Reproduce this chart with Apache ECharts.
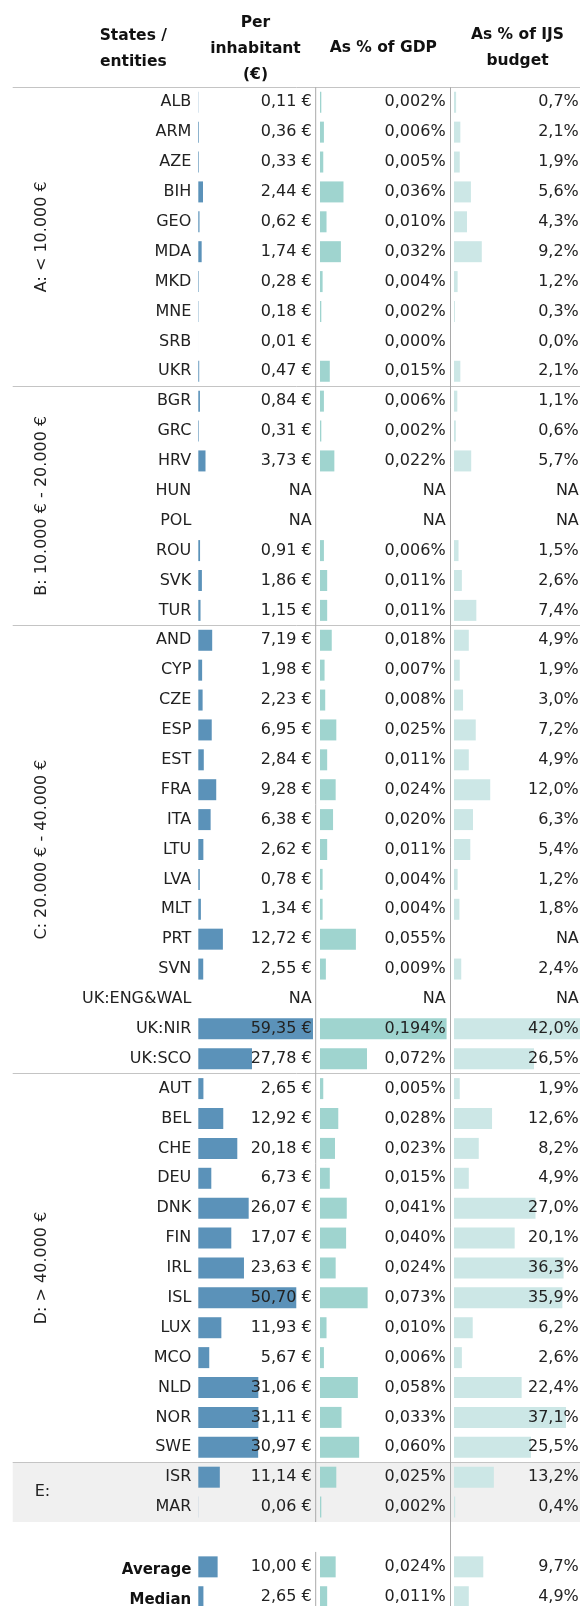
<!DOCTYPE html>
<html>
<head>
<meta charset="utf-8">
<script src="https://cdn.jsdelivr.net/npm/echarts@6/dist/echarts.min.js"></script>
<style>
  html, body { margin: 0; padding: 0; background: #fff; }
  #chart { width: 580px; height: 1606px; }
</style>
</head>
<body>
<div id="chart"></div>
<script>
// 分组（按人均 GDP）与国家代码
const groupNames = ['A: < 10.000 €', 'B: 10.000 € - 20.000 €', 'C: 20.000 € - 40.000 €', 'D: > 40.000 €', 'E:'];
const groupA = ['ALB', 'ARM', 'AZE', 'BIH', 'GEO', 'MDA', 'MKD', 'MNE', 'SRB', 'UKR'];
const groupB = ['BGR', 'GRC', 'HRV', 'HUN', 'POL', 'ROU', 'SVK', 'TUR'];
const groupC = ['AND', 'CYP', 'CZE', 'ESP', 'EST', 'FRA', 'ITA', 'LTU', 'LVA', 'MLT', 'PRT', 'SVN', 'UK:ENG&WAL', 'UK:NIR', 'UK:SCO'];
const groupD = ['AUT', 'BEL', 'CHE', 'DEU', 'DNK', 'FIN', 'IRL', 'ISL', 'LUX', 'MCO', 'NLD', 'NOR', 'SWE'];
const groupE = ['ISR', 'MAR'];

// null = NA
const perInhabitant = [
  0.11, 0.36, 0.33, 2.44, 0.62, 1.74, 0.28, 0.18, 0.01, 0.47,
  0.84, 0.31, 3.73, null, null, 0.91, 1.86, 1.15,
  7.19, 1.98, 2.23, 6.95, 2.84, 9.28, 6.38, 2.62, 0.78, 1.34, 12.72, 2.55, null, 59.35, 27.78,
  2.65, 12.92, 20.18, 6.73, 26.07, 17.07, 23.63, 50.70, 11.93, 5.67, 31.06, 31.11, 30.97,
  11.14, 0.06,
];
const pctGdp = [
  0.002, 0.006, 0.005, 0.036, 0.010, 0.032, 0.004, 0.002, 0.000, 0.015,
  0.006, 0.002, 0.022, null, null, 0.006, 0.011, 0.011,
  0.018, 0.007, 0.008, 0.025, 0.011, 0.024, 0.020, 0.011, 0.004, 0.004, 0.055, 0.009, null, 0.194, 0.072,
  0.005, 0.028, 0.023, 0.015, 0.041, 0.040, 0.024, 0.073, 0.010, 0.006, 0.058, 0.033, 0.060,
  0.025, 0.002,
];
const pctBudget = [
  0.7, 2.1, 1.9, 5.6, 4.3, 9.2, 1.2, 0.3, 0.0, 2.1,
  1.1, 0.6, 5.7, null, null, 1.5, 2.6, 7.4,
  4.9, 1.9, 3.0, 7.2, 4.9, 12.0, 6.3, 5.4, 1.2, 1.8, null, 2.4, null, 42.0, 26.5,
  1.9, 12.6, 8.2, 4.9, 27.0, 20.1, 36.3, 35.9, 6.2, 2.6, 22.4, 37.1, 25.5,
  13.2, 0.4,
];

const summaryNames = ['Average', 'Median'];
const summaryPerInhabitant = [10.00, 2.65];
const summaryPctGdp = [0.024, 0.011];
const summaryPctBudget = [9.7, 4.9];

const groups = [groupA, groupB, groupC, groupD, groupE];
const codes = groups.flat();
const blankIdx = codes.length; // 空行
const rowNames = [...codes, '', ...summaryNames];
const nRows = rowNames.length;

const colEur = [...perInhabitant, null, ...summaryPerInhabitant];
const colGdp = [...pctGdp, null, ...summaryPctGdp];
const colBud = [...pctBudget, null, ...summaryPctBudget];

const comma = s => s.replace('.', ',');
const fmtEur = v => comma(v.toFixed(2)) + ' €';
const fmtGdp = v => comma(v.toFixed(3)) + '%';
const fmtBud = v => comma(v.toFixed(1)) + '%';
const textCol = (vals, fmt) => vals.map((v, i) => i === blankIdx ? '' : (v == null ? 'NA' : fmt(v)));

const FONT = 'DejaVu Sans';
const TXT = '#222';
const ROW_H = 29.89;
const TOP = 87.3;
const H = ROW_H * nRows;

const grid = (left, width) => ({ left, top: TOP, width, height: H, outerBoundsMode: 'none', containLabel: false });
const hiddenCat = (gridIndex) => ({ type: 'category', gridIndex, data: rowNames, inverse: true, show: false });
const valueCat = (gridIndex, labels, margin) => ({
  type: 'category', gridIndex, data: labels, inverse: true, position: 'right', z: 10,
  axisLine: { show: false }, axisTick: { show: false }, splitLine: { show: false },
  axisLabel: { inside: true, interval: 0, margin, fontFamily: FONT, fontSize: 16, color: TXT },
});
const valX = (gridIndex, vals) => ({
  type: 'value', gridIndex, min: 0, max: Math.max(...vals.filter(v => v != null)), show: false,
});
const barSeries = (i, data, color) => ({
  type: 'bar', xAxisIndex: i, yAxisIndex: i * 2, data, barWidth: 21, silent: true,
  itemStyle: { color }, animation: false,
});

const chart = echarts.init(document.getElementById('chart'), null, { renderer: 'canvas' });
chart.setOption({
  animation: false,
  grid: [grid(198.3, 114.7), grid(320, 126.6), grid(454, 126.8), grid(12.7, 567.3)],
  xAxis: [
    valX(0, colEur), valX(1, colGdp), valX(2, colBud),
    { type: 'value', gridIndex: 3, min: 0, max: 1, show: false },
  ],
  yAxis: [
    {
      type: 'category', gridIndex: 0, data: rowNames, inverse: true, z: 10,
      axisLine: { show: false }, axisTick: { show: false }, splitLine: { show: false },
      axisLabel: {
        interval: 0, margin: 7, fontFamily: FONT, fontSize: 16, color: TXT,
        formatter: v => summaryNames.includes(v) ? `{b|${v}}` : v,
        rich: { b: { fontFamily: FONT, fontWeight: 'bold', fontSize: 15, color: '#111', padding: [7, 0, 0, 0] } },
      },
    },
    valueCat(0, textCol(colEur, fmtEur), 1.3),
    hiddenCat(1),
    valueCat(1, textCol(colGdp, fmtGdp), 1),
    hiddenCat(2),
    valueCat(2, textCol(colBud, fmtBud), 2),
    { type: 'value', gridIndex: 3, min: 0, max: nRows, inverse: true, show: false },
  ],
  series: [
    barSeries(0, colEur, '#5b92b9'),
    barSeries(1, colGdp, '#9fd4cf'),
    barSeries(2, colBud, '#cce7e6'),
    {
      type: 'line', xAxisIndex: 3, yAxisIndex: 6, data: [], silent: true, z: -1,
      markArea: {
        silent: true, z: -1,
        itemStyle: { color: '#f0f0f0' },
        data: [[{ yAxis: codes.length - groupE.length }, { yAxis: codes.length }]],
      },
      markLine: {
        silent: true, symbol: ['none', 'none'], label: { show: false },
        lineStyle: { color: '#c4c4c4', type: 'solid', width: 1 },
        data: [0, groupA.length, groupA.length + groupB.length,
               groupA.length + groupB.length + groupC.length,
               codes.length - groupE.length].map(v => ({ yAxis: v })),
      },
    },
  ],
});

// 表头、分组标签、竖向分隔线
const yPx = v => chart.convertToPixel({ yAxisIndex: 6 }, v);
const xPx = (i, v) => chart.convertToPixel({ xAxisIndex: i }, v);
const headFont = { fontFamily: FONT, fontWeight: 'bold', fontSize: 15.5, fill: '#111', align: 'center', verticalAlign: 'middle', lineHeight: 26 };
const head = (text, x, y) => ({ type: 'text', x, y, z: 100, style: Object.assign({ text }, headFont) });

const vline = (x, y1, y2) => ({
  type: 'line', silent: true, z: 50,
  shape: { x1: x, y1, x2: x, y2 },
  style: { stroke: '#a9a9a9', lineWidth: 1 },
});

const graphics = [
  head('States /\nentities', 133.3, 48.7),
  head('Per\ninhabitant\n(€)', 255.5, 49.3),
  head('As % of GDP', 383.3, 48.3),
  head('As % of IJS\nbudget', 517.5, 48.3),
];

const d1 = xPx(1, 0) - 4.3;
const d2 = xPx(2, 0) - 3.5;
graphics.push(vline(d1, yPx(0), yPx(blankIdx)));
graphics.push(vline(d1, yPx(blankIdx + 1), yPx(nRows)));
graphics.push(vline(d2, yPx(0), yPx(nRows)));

let start = 0;
groups.forEach((g, k) => {
  const cy = yPx(start + g.length / 2);
  const rotate = g.length > 2;
  graphics.push({
    type: 'text', x: rotate ? 41.7 : 42.5, y: cy, rotation: rotate ? Math.PI / 2 : 0, silent: true, z: 100,
    style: { text: groupNames[k], fontFamily: FONT, fontSize: 16, fill: TXT, align: 'center', verticalAlign: 'middle' },
  });
  start += g.length;
});

chart.setOption({ graphic: graphics });
</script>
</body>
</html>
